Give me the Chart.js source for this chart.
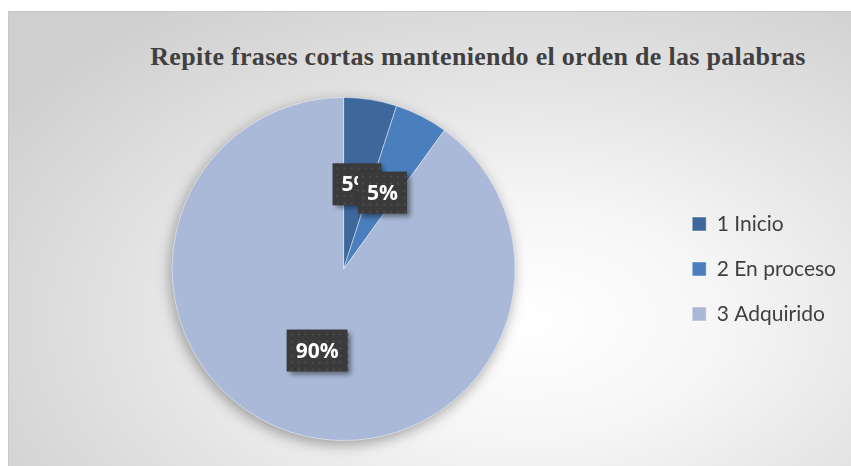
<!DOCTYPE html>
<html>
<head>
<meta charset="utf-8">
<script src="https://cdn.jsdelivr.net/npm/chart.js@4.4.0/dist/chart.umd.min.js"></script>
<style>
    html, body { margin: 0; padding: 0; background: #fff; }
    #frame {
        position: absolute; left: 8px; top: 11px; width: 843px; height: 455px;
        border-top: 1px solid #c8c8c8; border-left: 1px solid #c8c8c8;
        box-sizing: border-box;
        background: radial-gradient(ellipse 75% 85% at 62% 68%, #ffffff 0%, #f6f6f6 30%, #e2e2e2 65%, #cfcfcf 100%);
    }
    #title {
        position: absolute; left: 0; top: 32px; width: 938px; text-align: center;
        font: bold 26px/26px "Liberation Serif", "Times New Roman", serif; color: #404040;
        letter-spacing: 0.3px;
        white-space: nowrap;
    }
    #chartWrap { position: absolute; left: 0; top: 0; width: 843px; height: 455px; }
</style>
</head>
<body>
<div id="frame">
    <div id="title">Repite frases cortas manteniendo el orden de las palabras</div>
    <div id="chartWrap"><canvas id="pieChart"></canvas></div>
</div>
<script>
const categories = ['1 Inicio', '2 En proceso', '3 Adquirido'];
const percentages = [5, 5, 90];
const sliceColors = ['#3e689b', '#4a7ebd', '#a9b9d7'];

// shadow under the pie + dark label boxes like the Excel data labels
const pieDecor = {
    id: 'pieDecor',
    beforeDatasetsDraw(chart) {
        const arc = chart.getDatasetMeta(0).data[0];
        if (!arc) return;
        const c = chart.ctx;
        c.save();
        c.shadowColor = 'rgba(0,0,0,0.35)';
        c.shadowBlur = 14;
        c.shadowOffsetX = -2;
        c.shadowOffsetY = 4;
        c.fillStyle = '#a9b9d7';
        c.beginPath();
        c.arc(arc.x, arc.y, arc.outerRadius, 0, Math.PI * 2);
        c.fill();
        c.restore();
    },
    afterDatasetsDraw(chart) {
        const c = chart.ctx;
        const meta = chart.getDatasetMeta(0);
        c.save();
        c.font = 'bold 21px "Open Sans", sans-serif';
        c.textAlign = 'center';
        c.textBaseline = 'middle';
        meta.data.forEach((arc, i) => {
            const pos = arc.tooltipPosition();
            const text = percentages[i] + '%';
            const w = c.measureText(text).width + 18;
            const h = 42;
            const x = pos.x - w / 2, y = pos.y - h / 2;
            c.save();
            c.shadowColor = 'rgba(0,0,0,0.45)';
            c.shadowBlur = 5;
            c.shadowOffsetX = 3;
            c.shadowOffsetY = 3;
            c.fillStyle = '#3a3a3a';
            c.fillRect(x, y, w, h);
            c.restore();
            c.fillStyle = '#4c4c4c';
            for (let dy = 4; dy < h; dy += 7) {
                for (let dx = 4; dx < w; dx += 7) {
                    c.fillRect(x + dx, y + dy, 2, 2);
                }
            }
            c.fillStyle = '#ffffff';
            c.fillText(text, pos.x, pos.y + 1);
        });
        c.restore();
    }
};

new Chart(document.getElementById('pieChart').getContext('2d'), {
    type: 'pie',
    data: {
        labels: categories,
        datasets: [{
            data: percentages,
            backgroundColor: sliceColors,
            borderColor: 'rgba(255,255,255,0.45)',
            borderWidth: 1
        }]
    },
    options: {
        responsive: true,
        maintainAspectRatio: false,
        animation: false,
        layout: { padding: { top: 85, bottom: 26, left: 10, right: 6 } },
        plugins: {
            tooltip: { enabled: false },
            legend: {
                position: 'right',
                align: 'center',
                labels: {
                    boxWidth: 14,
                    boxHeight: 14,
                    padding: 24,
                    color: '#404040',
                    font: { family: 'Lato', size: 21 }
                }
            }
        }
    },
    plugins: [pieDecor]
});
</script>
</body>
</html>
